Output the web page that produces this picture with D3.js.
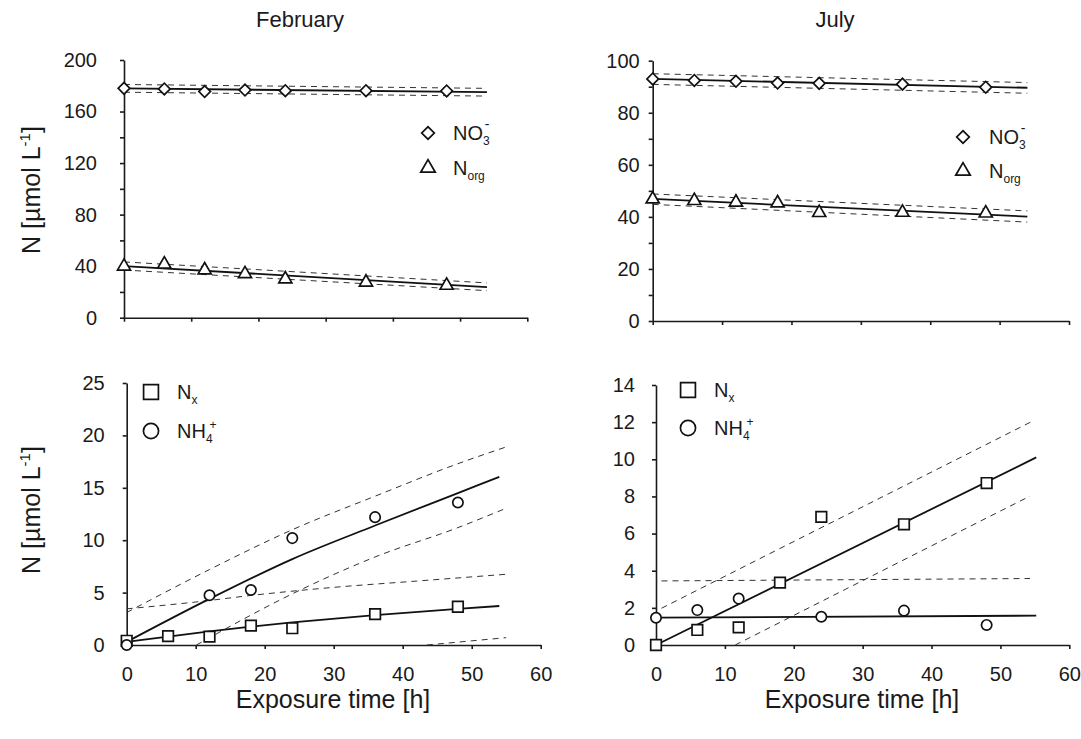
<!DOCTYPE html>
<html><head><meta charset="utf-8">
<script src="https://cdn.jsdelivr.net/npm/d3@7"></script>
<style>
body{margin:0;background:#fff}
svg{display:block;font-family:"Liberation Sans",Arial,Helvetica,sans-serif}
</style></head><body>
<svg id="chart" width="1081" height="739"></svg>
<script>
// Sampling times [h]
const hours = [0, 6, 12, 18, 24, 36, 48];

// February, upper panel [µmol L-1]
const febNO3  = [178, 177.5, 175.5, 176.7, 176.2, 176.2, 176];
const febNorg = [39.8, 41.5, 37, 34, 30, 27.5, 25];
// July, upper panel
const julNO3  = [93, 92.4, 92.1, 91.4, 91.3, 91, 89.8];
const julNorg = [46.8, 46.2, 45.6, 45.3, 41.6, 41.7, 41.4];
// February, lower panel
const febNx   = [0.4, 0.85, 0.8, 1.85, 1.6, 2.95, 3.65];
const febNH4  = [0, null, 4.75, 5.25, 10.2, 12.2, 13.6];
// July, lower panel
const julNx   = [0, 0.81, 0.95, 3.36, 6.9, 6.5, 8.72];
const julNH4  = [1.47, 1.88, 2.5, null, 1.52, 1.85, 1.08];

// Fitted curves and their bands, [h, value]
const febNO3Fit  = [[0, 178], [54, 175]];
const febNO3Hi   = [[0, 181], [54, 178]];
const febNO3Lo   = [[0, 175], [54, 172]];
const febNorgFit = [[0, 40], [54, 23.8]];
const febNorgHi  = [[0, 43.3], [54, 27]];
const febNorgLo  = [[0, 37], [54, 21]];

const julNO3Fit  = [[0, 93], [54, 89.6]];
const julNO3Hi   = [[0, 95], [54, 91.6]];
const julNO3Lo   = [[0, 90.9], [54, 87.5]];
const julNorgFit = [[0, 46.9], [54, 40.1]];
const julNorgHi  = [[0, 48.8], [54, 42.3]];
const julNorgLo  = [[0, 44.8], [54, 38]];

const febNxFit   = [[0, 0.3], [6, 0.8], [12, 1.3], [18, 1.75], [24, 2.15], [36, 2.85], [48, 3.45], [54, 3.72]];
const febNxHi    = [[0, 3.45], [10, 4.1], [19, 4.8], [30, 5.5], [42, 6.1], [55, 6.75]];
const febNxLo    = [[43.5, 0], [55, 0.7]];
const febNH4Fit  = [[0, 0.3], [12, 4.4], [24, 8.2], [36, 11.4], [48, 14.5], [54, 16.05]];
const febNH4Hi   = [[0, 3.1], [12, 7.2], [24, 11.0], [36, 14.2], [48, 17.3], [55, 18.9]];
const febNH4Lo   = [[10.1, 0], [25, 5.2], [36, 8.4], [48, 11.2], [55, 13.05]];

const julNxFit   = [[0, 0], [55.2, 10.1]];
const julNxHi    = [[0.8, 1.98], [54.8, 12.08]];
const julNxLo    = [[11.5, 0], [54.3, 8.02]];
const julNH4Fit  = [[0, 1.47], [55.2, 1.58]];
const julNH4Hi   = [[0.8, 3.45], [54.3, 3.58]];

// Axis ticks
const xTicks = [0, 10, 20, 30, 40, 50, 60];
const febTopTicks = d3.range(0, 201, 20), febTopLabels = [0, 40, 80, 120, 160, 200];
const julTopTicks = d3.range(0, 101, 10), julTopLabels = [0, 20, 40, 60, 80, 100];
const febBotTicks = [0, 5, 10, 15, 20, 25];
const julBotTicks = [0, 2, 4, 6, 8, 10, 12, 14];

const svg = d3.select("#chart");

const panels = [
  { box: [124, 527.3, 60, 317.7], yMax: 200, ticks: febTopTicks, labels: febTopLabels, pad: 23, xLabels: false,
    series: [{ v: febNO3, sym: "diamond" }, { v: febNorg, sym: "triangle" }],
    fits: [febNO3Fit, febNorgFit], bands: [febNO3Hi, febNO3Lo, febNorgHi, febNorgLo],
    legend: { x: 428, ys: [133, 168], tx: 453, kind: "top" } },
  { box: [652.7, 1069, 60.7, 321], yMax: 100, ticks: julTopTicks, labels: julTopLabels, pad: 9, xLabels: false,
    series: [{ v: julNO3, sym: "diamond" }, { v: julNorg, sym: "triangle" }],
    fits: [julNO3Fit, julNorgFit], bands: [julNO3Hi, julNO3Lo, julNorgHi, julNorgLo],
    legend: { x: 963, ys: [137, 171], tx: 989, kind: "top" } },
  { box: [126.7, 540.7, 383, 645], yMax: 25, ticks: febBotTicks, labels: febBotTicks, pad: 18, xLabels: true,
    series: [{ v: febNx, sym: "square" }, { v: febNH4, sym: "circle" }],
    fits: [febNxFit, febNH4Fit], bands: [febNxHi, febNxLo, febNH4Hi, febNH4Lo],
    legend: { x: 151, ys: [392, 431], tx: 177, kind: "bottom" } },
  { box: [656, 1069.3, 385, 645], yMax: 14, ticks: julBotTicks, labels: julBotTicks, pad: 17, xLabels: true,
    series: [{ v: julNx, sym: "square" }, { v: julNH4, sym: "circle" }],
    fits: [julNxFit, julNH4Fit], bands: [julNxHi, julNxLo, julNH4Hi],
    legend: { x: 688, ys: [390, 428], tx: 714, kind: "bottom" } }
];

function symbolPath(sym, big) {
  if (sym === "diamond") return d3.symbol(d3.symbolSquare, (big ? 80 : 68))();
  if (sym === "triangle") return d3.symbol(d3.symbolTriangle, (big ? 92 : 74))();
  if (sym === "square") return d3.symbol(d3.symbolSquare, big ? 220 : 112)();
  return d3.symbol(d3.symbolCircle, big ? 180 : 84)();
}
function symbolTransform(sym, x, y) {
  return `translate(${x},${y})` + (sym === "diamond" ? " rotate(45)" : "");
}

panels.forEach(p => {
  const [x0, x1, yT, yB] = p.box;
  const x = d3.scaleLinear().domain([0, 60]).range([x0, x1]);
  const y = d3.scaleLinear().domain([0, p.yMax]).range([yB, yT]);
  const g = svg.append("g");

  // axes
  const yAxis = d3.axisLeft(y).tickValues(p.ticks).tickSize(4).tickSizeOuter(0).tickPadding(p.pad)
    .tickFormat(d => p.labels.includes(d) ? d : "");
  const xAxis = d3.axisBottom(x).tickValues(xTicks).tickSize(4).tickSizeOuter(0).tickPadding(18)
    .tickFormat(d => p.xLabels ? d : "");
  [g.append("g").attr("transform", `translate(${x0},0)`).call(yAxis),
   g.append("g").attr("transform", `translate(0,${yB})`).call(xAxis)].forEach(a => {
    a.selectAll("path,line").attr("stroke", "#1a1a1a").attr("stroke-width", 1.6);
    a.selectAll("text").attr("font-size", 20).attr("fill", "#1a1a1a")
      .attr("font-family", '"Liberation Sans",Arial,sans-serif');
  });

  const line = d3.line().x(d => x(d[0])).y(d => y(d[1])).curve(d3.curveMonotoneX);
  g.selectAll(".band").data(p.bands).join("path")
    .attr("d", line).attr("fill", "none").attr("stroke", "#333")
    .attr("stroke-width", 1).attr("stroke-dasharray", "6,5");
  g.selectAll(".fit").data(p.fits).join("path").attr("class", "fit")
    .attr("d", line).attr("fill", "none").attr("stroke", "#111").attr("stroke-width", 1.8);

  p.series.forEach(s => {
    const pts = hours.map((h, i) => [h, s.v[i]]).filter(d => d[1] != null);
    g.append("g").selectAll("path").data(pts).join("path")
      .attr("d", symbolPath(s.sym, false))
      .attr("transform", d => symbolTransform(s.sym, x(d[0]), y(d[1])))
      .attr("fill", "#fff").attr("stroke", "#111").attr("stroke-width", 1.7);
  });

  // legend
  const L = p.legend;
  p.series.forEach((s, i) => {
    g.append("path").attr("d", symbolPath(s.sym, true))
      .attr("transform", symbolTransform(s.sym, L.x, L.ys[i]))
      .attr("fill", "#fff").attr("stroke", "#111").attr("stroke-width", 1.7);
  });
  const t = (i) => g.append("text").attr("x", L.tx).attr("y", L.ys[i] + 7)
    .attr("font-size", 20).attr("fill", "#1a1a1a");
  if (L.kind === "top") {
    const a = t(0); a.append("tspan").text("NO");
    a.append("tspan").attr("font-size", 12).attr("dy", 5).text("3");
    a.append("tspan").attr("font-size", 14).attr("dx", -5).attr("dy", -16).text("-");
    const b = t(1); b.append("tspan").text("N");
    b.append("tspan").attr("font-size", 12).attr("dy", 5).text("org");
  } else {
    const a = t(0); a.append("tspan").text("N");
    a.append("tspan").attr("font-size", 12).attr("dy", 5).text("x");
    const b = t(1); b.append("tspan").text("NH");
    b.append("tspan").attr("font-size", 12).attr("dy", 5).text("4");
    b.append("tspan").attr("font-size", 12).attr("dx", -3).attr("dy", -14).text("+");
  }
});

// titles
svg.append("text").attr("x", 300).attr("y", 27).attr("text-anchor", "middle")
  .attr("font-size", 22).attr("fill", "#1a1a1a").text("February");
svg.append("text").attr("x", 835).attr("y", 27).attr("text-anchor", "middle")
  .attr("font-size", 22).attr("fill", "#1a1a1a").text("July");

// axis titles
[190, 510].forEach(cy => {
  const tt = svg.append("text").attr("transform", `translate(40,${cy}) rotate(-90)`)
    .attr("text-anchor", "middle").attr("font-size", 25).attr("fill", "#1a1a1a");
  tt.append("tspan").text("N [µmol L");
  tt.append("tspan").attr("font-size", 15).attr("dy", -10).text("-1");
  tt.append("tspan").attr("dy", 10).text("]");
});
[[333, "Exposure time [h]"], [862, "Exposure time [h]"]].forEach(([cx, s]) => {
  svg.append("text").attr("x", cx).attr("y", 708).attr("text-anchor", "middle")
    .attr("font-size", 25).attr("fill", "#1a1a1a").text(s);
});
</script>
</body></html>
